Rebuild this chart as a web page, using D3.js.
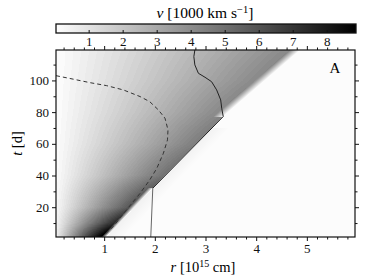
<!DOCTYPE html>
<html>
<head>
<meta charset="utf-8">
<script src="https://cdn.jsdelivr.net/npm/d3@7"></script>
<style>
    body { margin: 0; background: #fff; }
    svg { display: block; font-family: "Liberation Serif", "DejaVu Serif", serif; }
</style>
</head>
<body>
<div class="graphic"></div>
<script>
var rTicks = [1, 2, 3, 4, 5];
var tTicks = [20, 40, 60, 80, 100];
var vTicks = [1, 2, 3, 4, 5, 6, 7, 8];

// outer edge of the ejecta, r [1e15 cm] vs t [d]
var edgeT = [1.2, 32, 77.2, 119.2];
var edgeR = [1.04, 1.96, 3.35, 4.87];

// velocity gradient dv/dr [1000 km/s per 1e15 cm] read at these times
var gradT = [0, 10, 20, 40, 60, 80, 100, 120];
var gradS = [10.2, 6.2, 3.9, 2.25, 1.6, 1.25, 1.02, 0.87];

// dashed curve
var dashR = [0.05, 0.39, 0.72, 1.05, 1.38, 1.71, 1.90, 2.07, 2.20, 2.26, 2.25, 2.17, 2.04, 1.90, 1.71, 1.44, 1.18, 0.96];
var dashT = [103.0, 100.8, 98.6, 96.7, 94.0, 89.8, 86.6, 81.4, 76.2, 68.8, 62.5, 54.1, 44.6, 37.2, 28.8, 18.3, 7.8, 1.2];

// solid curves
var lowR = [1.92, 1.96];
var lowT = [1.2, 32];
var solidR = [1.96, 3.35, 3.32, 3.30, 3.22, 3.12, 2.99, 2.86, 2.79, 2.77, 2.79];
var solidT = [32, 77.2, 82.5, 87.7, 94, 99.2, 102, 104.5, 109.8, 115, 119.2];

var render = function () {
    var W = 374, H = 280;
    var plot = { left: 56, top: 50, right: 355, bottom: 237 };
    var vMax = 8.86;

    var x = d3.scaleLinear().domain([0.05, 5.95]).range([plot.left, plot.right]);
    var y = d3.scaleLinear().domain([1.2, 119.2]).range([plot.bottom, plot.top]);
    var cx = d3.scaleLinear().domain([0.04, vMax]).range([56, 356]);
    var shade = d3.scaleLinear().domain([0, vMax]).range([255, 0]).clamp(true);
    var edge = d3.scaleLinear().domain(edgeT).range(edgeR);
    var grad = d3.scaleLinear().domain(gradT).range(gradS);

    var svg = d3.select(".graphic")
        .append("svg")
        .attr("width", W)
        .attr("height", H);

    // velocity field drawn into a canvas, 64 grey levels
    var pw = plot.right - plot.left, ph = plot.bottom - plot.top;
    var canvas = document.createElement("canvas");
    canvas.width = pw;
    canvas.height = ph;
    var ctx = canvas.getContext("2d");
    var img = ctx.createImageData(pw, ph);
    var step = vMax / 64;
    for (var j = 0; j < ph; j++) {
        var t = y.invert(plot.top + j + 0.5);
        var re = edge(t);
        var fw = t > 77.2 ? 0.2 : (t > 32 ? 0.02 : 0.1);
        var g0 = grad(t);
        for (var i = 0; i < pw; i++) {
            var r = x.invert(plot.left + i + 0.5);
            var a = Math.max(0, Math.min(1, (re - r) / fw));
            var v = Math.min(vMax, r * g0);
            v = Math.round(v / step) * step * a;
            var g = Math.min(252, Math.round(shade(v)));
            // faint halo just outside the lower edge
            if (r > re && t < 70) {
                g = Math.round(252 - 10 * Math.max(0, 1 - (r - re) / 0.35));
            }
            var k = (j * pw + i) * 4;
            img.data[k] = img.data[k + 1] = img.data[k + 2] = g;
            img.data[k + 3] = 255;
        }
    }
    ctx.putImageData(img, 0, 0);

    svg.append("image")
        .attr("x", plot.left)
        .attr("y", plot.top)
        .attr("width", pw)
        .attr("height", ph)
        .attr("preserveAspectRatio", "none")
        .attr("href", canvas.toDataURL());

    var line = d3.line().x((d) => x(d[0])).y((d) => y(d[1]));

    svg.append("path")
        .attr("d", line(dashR.map((d, i) => [d, dashT[i]])))
        .attr("fill", "none")
        .attr("stroke", "#333")
        .attr("stroke-width", 1)
        .attr("stroke-dasharray", "4,3");

    svg.append("path")
        .attr("d", line(lowR.map((d, i) => [d, lowT[i]])))
        .attr("fill", "none")
        .attr("stroke", "#666")
        .attr("stroke-width", 1);

    svg.append("path")
        .attr("d", line(solidR.map((d, i) => [d, solidT[i]])))
        .attr("fill", "none")
        .attr("stroke", "#222")
        .attr("stroke-width", 1);

    // axes, ticks outward on all four sides
    var font = function (g) {
        g.select(".domain").remove();
        g.selectAll("text")
            .attr("font-family", "'Liberation Serif', serif")
            .attr("font-size", 13)
            .attr("fill", "#111");
        g.selectAll("line").attr("stroke", "#111");
    };
    var fmt = d3.format("d");
    var rMinor = d3.range(0.2, 5.95, 0.2).filter((d) => Math.abs(d - Math.round(d)) > 0.01);
    var tMinor = d3.range(10, 119, 20);

    svg.append("g").attr("transform", `translate(0,${plot.bottom})`)
        .call(d3.axisBottom(x).tickValues(rTicks).tickSize(4).tickPadding(3).tickFormat(fmt)).call(font);
    svg.append("g").attr("transform", `translate(0,${plot.bottom})`)
        .call(d3.axisBottom(x).tickValues(rMinor).tickSize(2.5).tickFormat("")).call(font);
    svg.append("g").attr("transform", `translate(0,${plot.top})`)
        .call(d3.axisTop(x).tickValues(rTicks).tickSize(4).tickFormat("")).call(font);
    svg.append("g").attr("transform", `translate(0,${plot.top})`)
        .call(d3.axisTop(x).tickValues(rMinor).tickSize(2.5).tickFormat("")).call(font);

    svg.append("g").attr("transform", `translate(${plot.left},0)`)
        .call(d3.axisLeft(y).tickValues(tTicks).tickSize(4).tickPadding(3).tickFormat(fmt)).call(font);
    svg.append("g").attr("transform", `translate(${plot.left},0)`)
        .call(d3.axisLeft(y).tickValues(tMinor).tickSize(2.5).tickFormat("")).call(font);
    svg.append("g").attr("transform", `translate(${plot.right},0)`)
        .call(d3.axisRight(y).tickValues(tTicks).tickSize(4).tickFormat("")).call(font);
    svg.append("g").attr("transform", `translate(${plot.right},0)`)
        .call(d3.axisRight(y).tickValues(tMinor).tickSize(2.5).tickFormat("")).call(font);

    svg.append("rect")
        .attr("x", plot.left)
        .attr("y", plot.top)
        .attr("width", pw)
        .attr("height", ph)
        .attr("fill", "none")
        .attr("stroke", "#111")
        .attr("stroke-width", 1.2);

    // axis titles
    svg.append("text")
        .attr("x", 203)
        .attr("y", 272)
        .attr("text-anchor", "middle")
        .attr("font-size", 14.5)
        .html('<tspan font-style="italic">r</tspan> [10<tspan baseline-shift="super" font-size="10">15</tspan> cm]');

    svg.append("text")
        .attr("transform", `translate(22,${(plot.top + plot.bottom) / 2}) rotate(-90)`)
        .attr("text-anchor", "middle")
        .attr("font-size", 14.5)
        .html('<tspan font-style="italic">t</tspan> [d]');

    svg.append("text")
        .attr("x", 335)
        .attr("y", 73)
        .attr("text-anchor", "middle")
        .attr("font-size", 15)
        .text("A");

    // colour bar
    var defs = svg.append("defs");
    var grd = defs.append("linearGradient")
        .attr("id", "vbar")
        .attr("gradientUnits", "userSpaceOnUse")
        .attr("x1", cx.range()[0])
        .attr("x2", cx.range()[1])
        .attr("y1", 0)
        .attr("y2", 0);
    cx.domain().forEach(function (d, i) {
        var g = Math.round(shade(d));
        grd.append("stop")
            .attr("offset", i)
            .attr("stop-color", d3.rgb(g, g, g));
    });

    svg.append("rect")
        .attr("x", 56)
        .attr("y", 24)
        .attr("width", 300)
        .attr("height", 9)
        .attr("fill", "url(#vbar)")
        .attr("stroke", "#111")
        .attr("stroke-width", 1.3);

    svg.append("g").attr("transform", "translate(0,33)")
        .call(d3.axisTop(cx).tickValues(vTicks).tickSize(3).tickFormat(""))
        .call(font);
    svg.append("g").attr("transform", "translate(0,33)")
        .call(d3.axisBottom(cx).tickValues(vTicks).tickSize(0).tickPadding(4).tickFormat(fmt))
        .call(font);

    svg.append("text")
        .attr("x", 205)
        .attr("y", 18)
        .attr("text-anchor", "middle")
        .attr("font-size", 15.5)
        .html('<tspan font-style="italic">v</tspan> [1000 km s<tspan baseline-shift="super" font-size="10.5">\u22121</tspan>]');
};

render();
</script>
</body>
</html>
